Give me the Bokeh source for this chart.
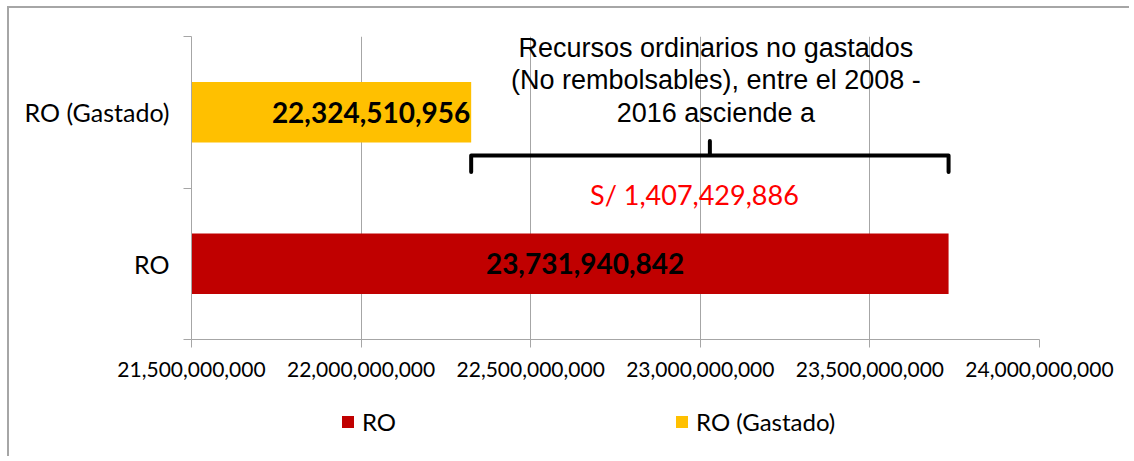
from bokeh.plotting import figure
from bokeh.layouts import column
from bokeh.models import Range1d, FixedTicker, NumeralTickFormatter, Legend, LegendItem
from bokeh.core.properties import value
from bokeh.embed import file_html
from bokeh.resources import INLINE

# ---- data ----
categories = ["RO", "RO (Gastado)"]
amounts = [23731940842, 22324510956]
bar_colors = ["#C00000", "#FFC000"]
x_ticks = [21500000000, 22000000000, 22500000000, 23000000000, 23500000000, 24000000000]
note_lines = ["Recursos ordinarios no gastados",
              "(No rembolsables), entre el 2008 -",
              "2016 asciende a"]

x_start, x_end = x_ticks[0], x_ticks[-1]
GRAY = "#A6A6A6"

p = figure(width=1120, height=385, x_range=Range1d(x_start, x_end), y_range=Range1d(0, len(categories)),
           output_backend="svg", toolbar_location=None,
           min_border_left=182, min_border_top=28, min_border_right=90, min_border_bottom=54)
p.outline_line_color = None
p.background_fill_color = "white"
p.border_fill_color = "white"

# grid
p.ygrid.visible = False
p.xgrid.ticker = FixedTicker(ticks=x_ticks)
p.xgrid.grid_line_color = GRAY
p.xgrid.grid_line_width = 1

# bars
renderers = []
for i, (cat, amt, col) in enumerate(zip(categories, amounts, bar_colors)):
    r = p.hbar(y=[i + 0.5], left=[x_start], right=[amt], height=0.4, fill_color=col, line_color=None)
    renderers.append(r)

# bar labels
lab_font = value("Lato")
p.text(x=[amounts[1]], y=[1.5], text=[f"{amounts[1]:,}"], text_align="right", text_baseline="middle",
       x_offset=-1, text_font=lab_font, text_font_style="bold", text_font_size="28px", text_color="black")
p.text(x=[(x_start + amounts[0]) / 2], y=[0.5], text=[f"{amounts[0]:,}"], text_align="center",
       text_baseline="middle", x_offset=15, text_font=lab_font, text_font_style="bold",
       text_font_size="28px", text_color="black")

# brace between the two bar ends
x0, x1 = amounts[1], amounts[0]
xc = (x0 + x1) / 2
y_h, y_end, y_tip = 1.215, 1.105, 1.31
p.line(x=[x0, x0, xc, xc, xc, x1, x1], y=[y_end, y_h, y_h, y_tip, y_h, y_h, y_end],
       line_width=4, line_color="black", line_join="round", line_cap="round")

# note text
note_y = [1.924, 1.716, 1.498]
p.text(x=[xc] * 3, y=note_y, text=note_lines, text_align="center", text_baseline="middle",
       x_offset=6, text_font=value("Liberation Sans"), text_font_size="27px", text_color="black")

diff = amounts[0] - amounts[1]
p.text(x=[xc], y=[0.957], text=[f"S/  {diff:,}"], text_align="center", text_baseline="middle",
       x_offset=-12, text_font=lab_font, text_font_size="27px", text_color="#FF0000")

# x axis
xa = p.xaxis[0]
xa.ticker = FixedTicker(ticks=x_ticks)
xa.formatter = NumeralTickFormatter(format="0,0")
xa.axis_line_color = GRAY
xa.major_tick_line_color = GRAY
xa.major_tick_out = 8
xa.major_tick_in = 0
xa.minor_tick_line_color = None
xa.major_label_text_font = "Lato"
xa.major_label_text_font_size = "21px"
xa.major_label_text_color = "black"
xa.major_label_standoff = 14

# y axis
ya = p.yaxis[0]
ya.ticker = FixedTicker(ticks=[i + 0.5 for i in range(len(categories))],
                        minor_ticks=list(range(len(categories) + 1)))
ya.major_label_overrides = {i + 0.5: c for i, c in enumerate(categories)}
ya.axis_line_color = GRAY
ya.major_tick_line_color = None
ya.major_tick_out = 8
ya.major_tick_in = 0
ya.minor_tick_line_color = GRAY
ya.minor_tick_out = 8
ya.minor_tick_in = 0
ya.major_label_text_font = "Lato"
ya.major_label_text_font_size = "25px"
ya.major_label_text_color = "black"
ya.major_label_standoff = 14

# legend strip (separate figure beneath, same series colours; proxy glyphs sit outside its range)
pl = figure(width=1120, height=63, x_range=Range1d(0, 1), y_range=Range1d(0, 1),
            x_axis_type=None, y_axis_type=None, output_backend="svg", toolbar_location=None,
            min_border=0)
pl.outline_line_color = None
pl.background_fill_color = "white"
pl.border_fill_color = "white"
leg_renderers = [pl.hbar(y=[-10], left=[0], right=[1], height=0.4, fill_color=col, line_color=None)
                 for col in bar_colors]
legend = Legend(items=[LegendItem(label=c, renderers=[r]) for c, r in zip(categories, leg_renderers)],
                orientation="horizontal", location=(149, 20), spacing=278,
                glyph_width=15, glyph_height=15, label_standoff=7, padding=0, margin=0,
                border_line_color=None, background_fill_alpha=0,
                label_text_font="Lato", label_text_font_size="24px", label_text_color="black")
pl.add_layout(legend)

layout = column(p, pl, spacing=0)
layout.styles = {"border-top": "2px solid #A6A6A6", "border-left": "2px solid #A6A6A6",
                 "position": "relative", "left": "7px", "top": "6px"}

open("out.html", "w").write(file_html(layout, INLINE))
